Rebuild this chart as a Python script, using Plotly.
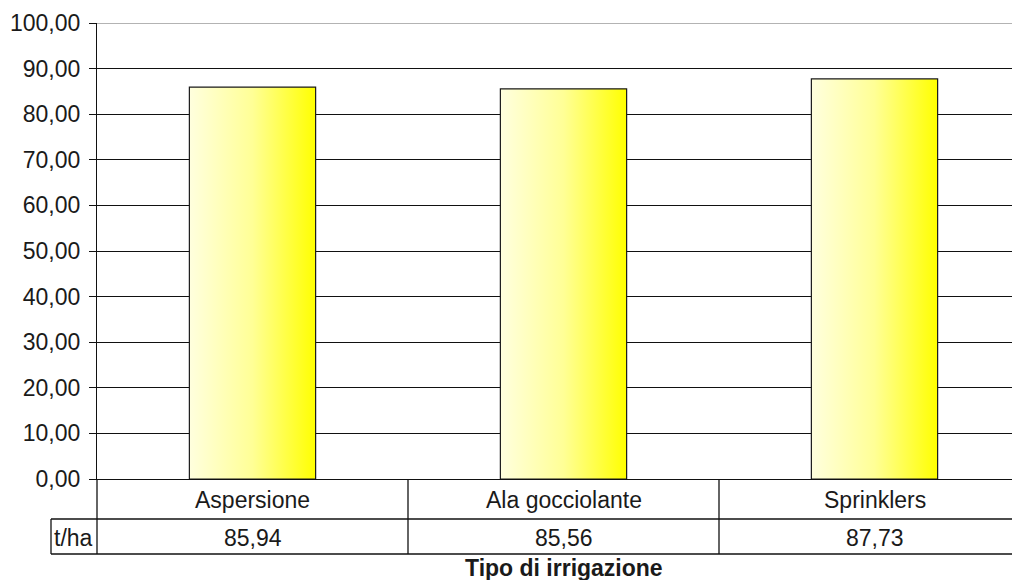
import plotly.graph_objects as go

categories = ["Aspersione", "Ala gocciolante", "Sprinklers"]
values = [85.94, 85.56, 87.73]
unit_label = "t/ha"
x_title = "Tipo di irrigazione"
y_ticks = [0, 10, 20, 30, 40, 50, 60, 70, 80, 90, 100]

FONT = "Liberation Sans, Arial, sans-serif"
FS = 23
TXT = "#1a1a1a"
# page has an 8px body margin, so the figure is sized to fit the 1020x588 window
W, H = 1004, 572
ML, MT, MB = 89, 15, 101
plot_w = W - ML
plot_h = H - MT - MB
cat_px = 311.0
x0 = -0.5
x1 = x0 + plot_w / cat_px
bar_w = 0.406

def py(px_below):  # pixel offset below zero line -> paper y
    return -px_below / plot_h

def px(px_left):  # pixel offset left of y-axis -> paper x
    return -px_left / plot_w

fig = go.Figure()
for i, (c, v) in enumerate(zip(categories, values)):
    fig.add_trace(go.Scatter(
        x=[i - bar_w / 2, i - bar_w / 2, i + bar_w / 2, i + bar_w / 2, i - bar_w / 2],
        y=[0, v, v, 0, 0],
        mode="lines", fill="toself",
        fillgradient=dict(type="horizontal",
                          colorscale=[[0, "rgb(255,255,222)"], [0.5, "rgb(255,255,150)"], [1, "rgb(255,255,0)"]]),
        line=dict(color="#1a1a1a", width=1.2),
        name=c, showlegend=False, hoverinfo="skip",
    ))

shapes = []
line_k = dict(color="#111", width=1.3)
y_row1 = py(40)
y_row2 = py(75)
# y-axis line extension through the table
shapes.append(dict(type="line", xref="paper", yref="paper", x0=0, x1=0, y0=0, y1=y_row2, line=line_k))
# horizontal table lines
for yy in (y_row1, y_row2):
    shapes.append(dict(type="line", xref="paper", yref="paper", x0=px(46), x1=1, y0=yy, y1=yy, line=line_k))
# t/ha box left edge
shapes.append(dict(type="line", xref="paper", yref="paper", x0=px(46), x1=px(46), y0=y_row1, y1=y_row2, line=line_k))
# category dividers
for i in range(len(categories) - 1):
    xp = (i + 0.5 - x0) / (x1 - x0)
    shapes.append(dict(type="line", xref="paper", yref="paper", x0=xp, x1=xp, y0=0, y1=y_row2, line=line_k))
# top gridline lighter
shapes.append(dict(type="line", xref="paper", yref="y", x0=0, x1=1, y0=y_ticks[-1], y1=y_ticks[-1],
                   line=dict(color="#9a9a9a", width=1.3)))

annotations = []
for i, (c, v) in enumerate(zip(categories, values)):
    annotations.append(dict(x=i, y=py(21), xref="x", yref="paper", text=c, showarrow=False,
                            font=dict(family=FONT, size=FS, color=TXT), xanchor="center", yanchor="middle"))
    annotations.append(dict(x=i, y=py(59), xref="x", yref="paper", text=f"{v:.2f}".replace(".", ","),
                            showarrow=False, font=dict(family=FONT, size=FS, color=TXT),
                            xanchor="center", yanchor="middle"))
annotations.append(dict(x=px(45), y=py(59), xref="paper", yref="paper", text=unit_label, showarrow=False,
                        font=dict(family=FONT, size=FS, color=TXT), xanchor="left", yanchor="middle"))
annotations.append(dict(x=1, y=-(MB + 3) / plot_h, xref="x", yref="paper", text=f"<b>{x_title}</b>", showarrow=False,
                        font=dict(family=FONT, size=FS, color=TXT), xanchor="center", yanchor="bottom"))

fig.update_layout(
    width=W, height=H,
    margin=dict(l=ML, r=0, t=MT, b=MB),
    paper_bgcolor="white", plot_bgcolor="white",
    separators=",.",
    font=dict(family=FONT, size=FS, color=TXT),
    xaxis=dict(range=[x0, x1], showticklabels=False, ticks="", showgrid=False, zeroline=False,
               showline=True, linecolor="#111", linewidth=1.3),
    yaxis=dict(range=[0, 100], tickvals=y_ticks, tickformat=".2f", ticks="outside", ticklen=7,
               tickcolor="#111", tickwidth=1.3, showline=True, linecolor="#111", linewidth=1.3,
               showgrid=True, gridcolor="#111", gridwidth=1.3, zeroline=False, ticklabelstandoff=4,
               tickfont=dict(family=FONT, size=FS, color=TXT)),
    shapes=shapes, annotations=annotations,
)
fig.write_html("out.html")
